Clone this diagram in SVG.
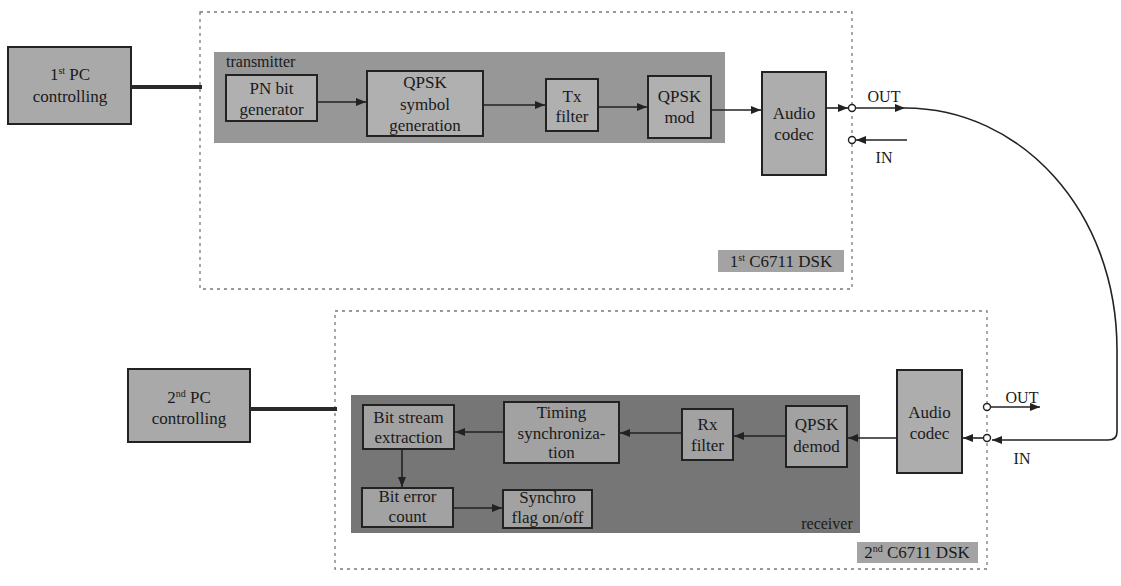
<svg xmlns="http://www.w3.org/2000/svg" width="1121" height="586" viewBox="0 0 1121 586">
<defs>
<marker id="ah" viewBox="0 0 10 8" refX="10" refY="4" markerWidth="10" markerHeight="8" markerUnits="userSpaceOnUse" orient="auto">
<path d="M0,0 L10,4 L0,8 Z" fill="#222"/>
</marker>
</defs>
<style>
text{font-family:'Liberation Serif','DejaVu Serif','Times New Roman',serif;font-size:17px;fill:#1a1a1a;text-anchor:middle}
.dsk{fill:none;stroke:#7a7a7a;stroke-width:1.3;stroke-dasharray:3 4}
.box{stroke:#222;stroke-width:2}
.pc{fill:#a9a9a9}
.tx{fill:#979797;stroke:none}
.rx{fill:#767676;stroke:none}
.txn{fill:#b0b0b0}
.rxn{fill:#a2a2a2}
.codec{fill:#adadad}
.lbl{fill:#a3a3a3;stroke:none}
.c{fill:none;stroke:#222;stroke-width:1.6}
.thick{stroke:#2a2a2a;stroke-width:4;fill:none}
.port{fill:#fff;stroke:#222;stroke-width:1.4}
.small{font-size:16px}
.left{text-anchor:start}
</style>
<rect width="1121" height="586" fill="#fff"/>
<g font-family="'Liberation Serif','DejaVu Serif',serif">
<g id="dsk1">
<rect class="dsk" x="200" y="12" width="652" height="277"/>
<rect class="lbl" x="718" y="250" width="126" height="22"/>
<text x="781" y="267">1<tspan font-size="10" dy="-6">st</tspan><tspan dy="6"> C6711 DSK</tspan></text>
</g>
<g id="dsk2">
<rect class="dsk" x="335" y="311" width="652" height="258"/>
<rect class="lbl" x="857" y="542" width="121" height="21"/>
<text x="917" y="558">2<tspan font-size="10" dy="-6">nd</tspan><tspan dy="6"> C6711 DSK</tspan></text>
</g>

<g id="transmitter">
<rect class="tx" x="214" y="52" width="511" height="91"/>
<text class="left" x="226" y="67" style="font-size:16px">transmitter</text>
</g>
<g id="receiver">
<rect class="rx" x="351" y="395" width="509" height="138"/>
<text x="827" y="529" style="font-size:16px">receiver</text>
</g>

<g id="pc1">
<rect class="box pc" x="8" y="47" width="123" height="77"/>
<text x="70" y="80">1<tspan font-size="10" dy="-6">st</tspan><tspan dy="6"> PC</tspan></text>
<text x="70" y="102">controlling</text>
</g>
<g id="pc2">
<rect class="box pc" x="128" y="369" width="122" height="73"/>
<text x="189" y="403">2<tspan font-size="10" dy="-6">nd</tspan><tspan dy="6"> PC</tspan></text>
<text x="189" y="424">controlling</text>
</g>

<g id="pn">
<rect class="box txn" x="226" y="75" width="91" height="46"/>
<text x="271.5" y="94">PN bit</text>
<text x="271.5" y="115">generator</text>
</g>
<g id="qpsksym">
<rect class="box txn" x="367" y="71" width="116" height="65"/>
<text x="425" y="88">QPSK</text>
<text x="425" y="110">symbol</text>
<text x="425" y="131">generation</text>
</g>
<g id="txfilter">
<rect class="box txn" x="546" y="79" width="52" height="52"/>
<text x="572" y="102">Tx</text>
<text x="572" y="122">filter</text>
</g>
<g id="qpskmod">
<rect class="box txn" x="648" y="76" width="63" height="62"/>
<text x="679.5" y="102">QPSK</text>
<text x="679.5" y="123">mod</text>
</g>
<g id="codec1">
<rect class="box codec" x="762" y="72" width="64" height="103"/>
<text x="794" y="119">Audio</text>
<text x="794" y="140">codec</text>
</g>

<g id="codec2">
<rect class="box codec" x="897" y="370" width="65" height="103"/>
<text x="929.5" y="418">Audio</text>
<text x="929.5" y="439">codec</text>
</g>
<g id="qpskdemod">
<rect class="box rxn" x="786" y="406" width="61" height="61"/>
<text x="816.5" y="430">QPSK</text>
<text x="816.5" y="452">demod</text>
</g>
<g id="rxfilter">
<rect class="box rxn" x="682" y="409" width="51" height="51"/>
<text x="707.5" y="430">Rx</text>
<text x="707.5" y="451">filter</text>
</g>
<g id="timing">
<rect class="box rxn" x="504" y="402" width="115" height="61"/>
<text x="561.5" y="418">Timing</text>
<text x="561.5" y="439">synchroniza-</text>
<text x="561.5" y="458">tion</text>
</g>
<g id="bitstream">
<rect class="box rxn" x="363" y="405" width="91" height="44"/>
<text x="408.5" y="423">Bit stream</text>
<text x="408.5" y="443">extraction</text>
</g>
<g id="biterror">
<rect class="box rxn" x="362" y="488" width="91" height="39"/>
<text x="407.5" y="502">Bit error</text>
<text x="407.5" y="522">count</text>
</g>
<g id="synchro">
<rect class="box rxn" x="503" y="490" width="89" height="38"/>
<text x="547.5" y="503">Synchro</text>
<text x="547.5" y="523">flag on/off</text>
</g>

<g id="ports">
<circle class="port" cx="852" cy="108" r="3.5"/>
<circle class="port" cx="852" cy="140" r="3.5"/>
<circle class="port" cx="987" cy="407" r="3.5"/>
<circle class="port" cx="987" cy="438" r="3.5"/>
<text class="small" x="884" y="102">OUT</text>
<text class="small" x="884" y="163">IN</text>
<text class="small" x="1022" y="403">OUT</text>
<text class="small" x="1022" y="464">IN</text>
</g>
</g>
<g id="connectors">
<line class="thick" x1="131" y1="87" x2="202" y2="87"/>
<line class="thick" x1="250" y1="409" x2="337" y2="409"/>
<line class="c" x1="317" y1="102" x2="366" y2="102" marker-end="url(#ah)"/>
<line class="c" x1="483" y1="105" x2="545" y2="105" marker-end="url(#ah)"/>
<line class="c" x1="598" y1="107" x2="647" y2="107" marker-end="url(#ah)"/>
<line class="c" x1="711" y1="110" x2="761" y2="110" marker-end="url(#ah)"/>
<line class="c" x1="826" y1="108" x2="848" y2="108" marker-end="url(#ah)"/>
<line class="c" x1="856" y1="108" x2="905" y2="108" marker-end="url(#ah)"/>
<path class="c" d="M905,108 C1020,108 1117,210 1117,350 L1117,432 Q1117,440 1108,440 L992,440" marker-end="url(#ah)"/>
<line class="c" x1="907" y1="140" x2="856" y2="140" marker-end="url(#ah)"/>
<line class="c" x1="991" y1="407" x2="1040" y2="407" marker-end="url(#ah)"/>
<line class="c" x1="983" y1="438" x2="963" y2="438" marker-end="url(#ah)"/>
<line class="c" x1="897" y1="438" x2="848" y2="438" marker-end="url(#ah)"/>
<line class="c" x1="786" y1="436" x2="734" y2="436" marker-end="url(#ah)"/>
<line class="c" x1="682" y1="433" x2="620" y2="433" marker-end="url(#ah)"/>
<line class="c" x1="504" y1="432" x2="455" y2="432" marker-end="url(#ah)"/>
<line class="c" x1="402" y1="449" x2="402" y2="487" marker-end="url(#ah)"/>
<line class="c" x1="453" y1="508" x2="502" y2="508" marker-end="url(#ah)"/>
</g>
</svg>
